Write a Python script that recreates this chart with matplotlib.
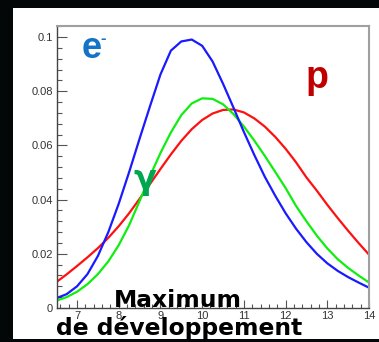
import matplotlib
matplotlib.use("Agg")
from matplotlib import pyplot as plt
from matplotlib.patches import Rectangle
from matplotlib.ticker import MultipleLocator

# depth of shower maximum (shared grid)
x_depth = [6.5, 6.75, 7.0, 7.25, 7.5, 7.75, 8.0, 8.25, 8.5, 8.75,
           9.0, 9.25, 9.5, 9.75, 10.0, 10.25, 10.5, 10.75, 11.0, 11.25,
           11.5, 11.75, 12.0, 12.25, 12.5, 12.75, 13.0, 13.25, 13.5, 13.75, 14.0]

electron = [0.0036, 0.0051, 0.0080, 0.0125, 0.0192, 0.0280, 0.0385, 0.0502, 0.0625, 0.0745,
            0.0862, 0.0950, 0.0984, 0.0991, 0.0968, 0.0910, 0.0828, 0.0740, 0.0650, 0.0565,
            0.0485, 0.0415, 0.0350, 0.0293, 0.0243, 0.0200, 0.0165, 0.0137, 0.0114, 0.0094, 0.0075]

photon = [0.0027, 0.0040, 0.0060, 0.0088, 0.0125, 0.0172, 0.0232, 0.0306, 0.0395, 0.0487,
          0.0572, 0.0648, 0.0712, 0.0755, 0.0774, 0.0772, 0.0752, 0.0716, 0.0670, 0.0618,
          0.0562, 0.0503, 0.0443, 0.0377, 0.0320, 0.0267, 0.0220, 0.0180, 0.0148, 0.0120, 0.0094]

proton = [0.0095, 0.0124, 0.0155, 0.0187, 0.0221, 0.0259, 0.0302, 0.0350, 0.0403, 0.0458,
          0.0513, 0.0567, 0.0617, 0.0660, 0.0694, 0.0718, 0.0731, 0.0733, 0.0722, 0.0700,
          0.0670, 0.0632, 0.0588, 0.0538, 0.0482, 0.0433, 0.0381, 0.0332, 0.0285, 0.0240, 0.0197]

x_ticks = [7, 8, 9, 10, 11, 12, 13, 14]
y_ticks = [0, 0.02, 0.04, 0.06, 0.08, 0.1]
y_tick_labels = ["0", "0.02", "0.04", "0.06", "0.08", "0.1"]

W, H = 379, 342
fig = plt.figure(figsize=(W / 100, H / 100), dpi=100)
fig.patch.set_facecolor("#040707")

# white panel behind the plot
fig.patches.append(Rectangle((13 / W, 1 - 339 / H), 1 - 13 / W, (339 - 8) / H,
                             transform=fig.transFigure, facecolor="white",
                             edgecolor="none", zorder=0))

ax = fig.add_axes([57 / W, 1 - 308 / H, (369 - 57) / W, (308 - 26) / H])
ax.set_zorder(2)
ax.set_facecolor("white")

ax.plot(x_depth, proton, color="#ff1010", lw=1.6)
ax.plot(x_depth, photon, color="#10ee10", lw=1.6)
ax.plot(x_depth, electron, color="#1a1aff", lw=1.6)

ax.set_xlim(6.52, 14.0)
ax.set_ylim(0, 0.1041)

narrow = ["Liberation Sans Narrow", "Liberation Sans", "DejaVu Sans"]
ax.set_xticks(x_ticks)
ax.set_xticklabels([str(t) for t in x_ticks], family=narrow, fontsize=8, color="#333333")
ax.set_yticks(y_ticks)
ax.set_yticklabels(y_tick_labels, family=narrow, fontsize=8, color="#333333")
ax.xaxis.set_minor_locator(MultipleLocator(0.2))
ax.yaxis.set_minor_locator(MultipleLocator(0.004))
ax.tick_params(axis="both", which="both", direction="in", color="#555555", width=0.8)
ax.tick_params(axis="y", which="major", length=7, pad=3)
ax.tick_params(axis="y", which="minor", length=3.5)
ax.tick_params(axis="x", which="major", length=5.5, pad=2)
ax.tick_params(axis="x", which="minor", length=3)

for side in ["left", "bottom"]:
    ax.spines[side].set_color("#444444")
    ax.spines[side].set_linewidth(1.0)
for side in ["top", "right"]:
    ax.spines[side].set_color("#a0a0a0")
    ax.spines[side].set_linewidth(1.5)

def px(x, y):
    return x / W, 1 - y / H

bold_narrow = dict(family=narrow, fontweight="bold", zorder=5)
fig.text(*px(82, 58), "e", color="#1473c6", fontsize=26, va="baseline", **bold_narrow)
fig.text(*px(100, 46), "-", color="#1473c6", fontsize=12, va="bottom", **bold_narrow)
fig.text(*px(306, 88), "p", color="#c00000", fontsize=27, va="baseline", **bold_narrow)
fig.text(*px(145, 180), "γ", color="#00a650", fontsize=24, ha="center", va="center",
         family="DejaVu Sans", fontweight="bold", zorder=5)

fig.text(*px(114, 307), "Maximum", color="black", fontsize=16.8, fontweight="bold",
         family="DejaVu Sans", va="baseline", zorder=5)
fig.text(*px(56, 335), "de développement", color="black", fontsize=16.8, fontweight="bold",
         family="DejaVu Sans", va="baseline", zorder=5)

fig.savefig("out.png", dpi=100, facecolor=fig.get_facecolor())
